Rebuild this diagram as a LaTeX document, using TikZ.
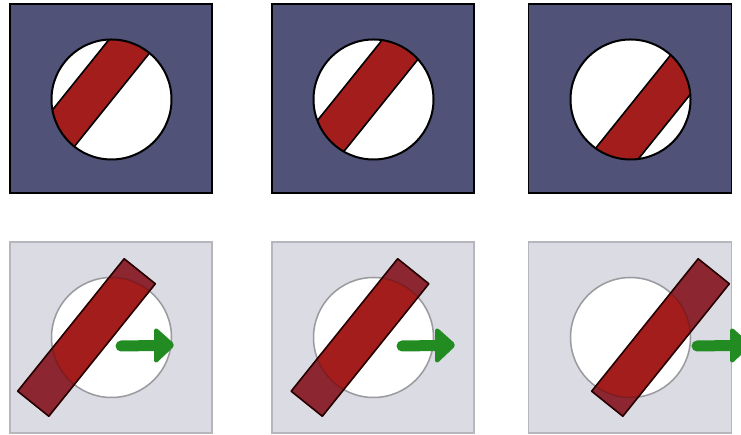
\documentclass[tikz,border=0pt]{standalone}
\begin{document}
\begin{tikzpicture}[x=1pt,y=1pt,
  topsq/.style={fill=topblue,draw=black,line width=1.4},
  botsq/.style={fill=botgray,draw=botedge,line width=1.3},
  stripeedge/.style={draw=black,line width=1.6},
  baredge/.style={draw=black!85!red,line width=1.6,line join=round},
  arrowcol/.style={fill=arrgreen,draw=arrgreen,line join=round,rounded corners=3,line width=2}]
\definecolor{topblue}{RGB}{80,82,120}
\definecolor{botgray}{RGB}{218,219,227}
\definecolor{botedge}{RGB}{182,182,188}
\definecolor{stripered}{RGB}{163,29,29}
\definecolor{barout}{RGB}{140,38,48}
\definecolor{arrgreen}{RGB}{34,140,34}
\useasboundingbox (0,0) rectangle (741,435);
\clip (0,0) rectangle (741,435);
\fill[white] (0,0) rectangle (741,435);
\foreach \cx/\bx/\ax/\xl/\xr in {111.5/86.5/117/10/212, 373.5/360/398/272/474, 630.5/660.5/693/528.5/731.5}{
  % top panel
  \draw[topsq] (\xl,242) rectangle (\xr,431);
  \fill[white] (\cx,335.5) circle (60);
  \begin{scope}
    \clip (\cx,335.5) circle (60);
    \begin{scope}[shift={(\bx,335.5)},rotate=51.2]
      \fill[stripered] (-85,-20) rectangle (85,20);
      \draw[stripeedge] (-85,-20) -- (85,-20) (-85,20) -- (85,20);
    \end{scope}
  \end{scope}
  \draw[black,line width=2] (\cx,335.5) circle (60);
  % bottom panel
  \draw[botsq] (\xl,2) rectangle (\xr,193);
  \draw[fill=white,draw=botedge,line width=1.5] (\cx,97.5) circle (60);
  \begin{scope}[shift={(\bx,97.5)},rotate=51.2]
    \fill[barout] (-85,-20) rectangle (85,20);
  \end{scope}
  \begin{scope}
    \clip (\cx,97.5) circle (60);
    \begin{scope}[shift={(\bx,97.5)},rotate=51.2]
      \fill[stripered] (-85,-20) rectangle (85,20);
    \end{scope}
  \end{scope}
  \draw[black,opacity=0.15,line width=1.5] (\cx,97.5) circle (60);
  \begin{scope}[shift={(\bx,97.5)},rotate=51.2]
    \draw[baredge] (-85,-20) rectangle (85,20);
  \end{scope}
  % green arrow
  \draw[arrgreen,line width=11,line cap=round] (\ax+4,89) -- (\ax+40,89.5);
  \filldraw[arrowcol] (\ax+38,107) -- (\ax+57,90) -- (\ax+38,72) -- cycle;
}
\end{tikzpicture}
\end{document}
